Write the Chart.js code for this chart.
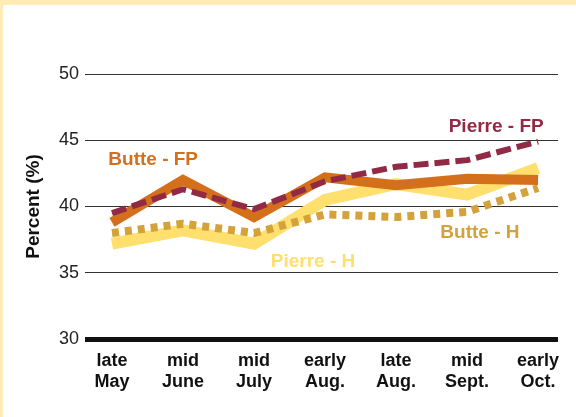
<!DOCTYPE html>
<html>
<head>
<meta charset="utf-8">
<script src="https://cdn.jsdelivr.net/npm/chart.js@4/dist/chart.umd.min.js"></script>
<style>
  html, body { margin: 0; padding: 0; background: #fff; }
  #wrap { width: 576px; height: 417px; position: relative; }
</style>
</head>
<body>
<div id="wrap"><canvas id="chart" width="576" height="417"></canvas></div>
<script>
// categorias del eje x (dos lineas cada una)
const categories = [
  ["late", "May"], ["mid", "June"], ["mid", "July"], ["early", "Aug."],
  ["late", "Aug."], ["mid", "Sept."], ["early", "Oct."]
];
const yTicks = [30, 35, 40, 45, 50];

// valores (porcentaje)
const butteFP = [38.8, 42.0, 39.2, 42.2, 41.6, 42.1, 42.0];
const pierreFP = [39.5, 41.3, 39.8, 41.9, 43.0, 43.5, 44.9];
const butteH = [38.0, 38.7, 38.0, 39.4, 39.2, 39.6, 41.4];
const pierreH = [37.2, 38.2, 37.2, 40.5, 41.7, 40.9, 42.9];

function toPoints(values) {
  return values.map((v, i) => ({ x: i, y: v }));
}

const FONT = "'Liberation Sans', Arial, Helvetica, sans-serif";

// etiquetas de cada serie, ubicadas en coordenadas de datos
const seriesLabels = [
  { text: "Butte - FP", color: "#d4701c", x: 0.58, y: 43.5 },
  { text: "Pierre - FP", color: "#922a46", x: 5.41, y: 46.0 },
  { text: "Butte - H", color: "#d4a23a", x: 5.18, y: 38.0 },
  { text: "Pierre - H", color: "#ffdf6e", x: 2.83, y: 35.8 }
];

const labelPlugin = {
  id: "labelPlugin",
  beforeDraw(chart) {
    const c = chart.ctx;
    c.save();
    c.fillStyle = "#ffebb3";
    c.fillRect(0, 0, chart.width, 5);
    c.fillRect(0, 0, 3, chart.height);
    c.restore();
  },
  afterDatasetsDraw(chart) {
    const c = chart.ctx;
    const xs = chart.scales.x;
    const ys = chart.scales.y;
    c.save();
    c.font = "bold 19px " + FONT;
    c.textAlign = "center";
    c.textBaseline = "middle";
    seriesLabels.forEach((l) => {
      c.fillStyle = l.color;
      c.fillText(l.text, xs.getPixelForValue(l.x), ys.getPixelForValue(l.y));
    });
    c.restore();
  }
};

new Chart(document.getElementById("chart"), {
  type: "line",
  data: {
    datasets: [
      {
        label: "Pierre - FP",
        data: toPoints(pierreFP),
        borderColor: "#922a46",
        borderWidth: 6,
        borderDash: [15, 6]
      },
      {
        label: "Butte - FP",
        data: toPoints(butteFP),
        borderColor: "#d4701c",
        borderWidth: 10
      },
      {
        label: "Butte - H",
        data: toPoints(butteH),
        borderColor: "#d4a23a",
        borderWidth: 8,
        borderDash: [7, 6]
      },
      {
        label: "Pierre - H",
        data: toPoints(pierreH),
        borderColor: "#ffdf6e",
        borderWidth: 12
      }
    ]
  },
  options: {
    responsive: false,
    animation: false,
    events: [],
    layout: { padding: { top: 74, right: 18, left: 0, bottom: 0 } },
    elements: {
      point: { radius: 0 },
      line: { tension: 0, borderCapStyle: "butt", borderJoinStyle: "miter", fill: false }
    },
    plugins: {
      legend: { display: false },
      tooltip: { enabled: false }
    },
    scales: {
      x: {
        type: "linear",
        min: -0.38,
        max: 6.28,
        afterBuildTicks: (axis) => {
          axis.ticks = categories.map((c, i) => ({ value: i }));
        },
        afterFit: (axis) => { axis.height = 417 - 339 - 74 + 74; },
        grid: { display: false, drawTicks: false },
        border: { display: false },
        ticks: {
          padding: 12,
          maxRotation: 0,
          autoSkip: false,
          color: "#111",
          font: { family: FONT, size: 18, weight: "bold", lineHeight: 1.15 },
          callback: (v) => categories[v]
        }
      },
      y: {
        min: 30,
        max: 50,
        afterBuildTicks: (axis) => {
          axis.ticks = yTicks.map((v) => ({ value: v }));
        },
        afterFit: (axis) => { axis.width = 85; },
        grid: {
          drawTicks: false,
          color: (ctx) => (ctx.tick && ctx.tick.value === 30 ? "#111" : "#333"),
          lineWidth: (ctx) => (ctx.tick && ctx.tick.value === 30 ? 5 : 1)
        },
        border: { display: false },
        ticks: {
          padding: 6,
          color: "#222",
          font: { family: FONT, size: 18 }
        },
        title: {
          display: true,
          text: "Percent (%)",
          color: "#111",
          font: { family: FONT, size: 19, weight: "bold" },
          padding: { top: 22, bottom: 0 }
        }
      }
    }
  },
  plugins: [labelPlugin]
});
</script>
</body>
</html>
